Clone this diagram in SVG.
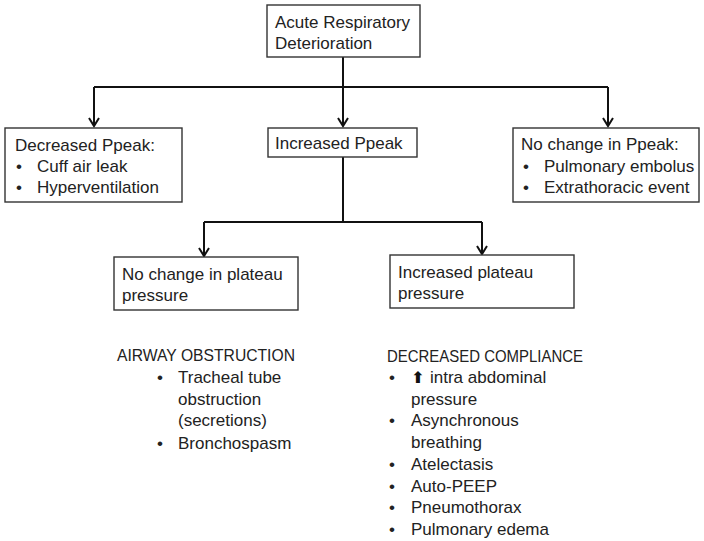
<svg xmlns="http://www.w3.org/2000/svg" width="704" height="541" viewBox="0 0 704 541">
<defs>
<style>
.box{fill:#fff;stroke:#333;stroke-width:1.4}
.t{font-family:"Liberation Sans",Arial,sans-serif;font-size:17px;fill:#222}
.c{fill:none;stroke:#111;stroke-width:2}
</style>
<marker id="ah" markerWidth="12" markerHeight="12" viewBox="0 0 12 12" refX="10" refY="6" orient="auto" markerUnits="userSpaceOnUse">
<path d="M2,1 L10,6 L2,11" fill="none" stroke="#111" stroke-width="2"/>
</marker>
</defs>
<rect width="704" height="541" fill="#fff"/>
<g id="connectors">
<path class="c" d="M343,57 V87"/>
<path class="c" d="M94,87 H608"/>
<path class="c" d="M94,87 V126" marker-end="url(#ah)"/>
<path class="c" d="M343,87 V126" marker-end="url(#ah)"/>
<path class="c" d="M608,87 V126" marker-end="url(#ah)"/>
<path class="c" d="M343,157 V222"/>
<path class="c" d="M204,222 H482"/>
<path class="c" d="M204,222 V256" marker-end="url(#ah)"/>
<path class="c" d="M482,222 V254" marker-end="url(#ah)"/>
</g>
<g id="n-acute">
<rect class="box" x="267" y="5" width="153" height="52"/>
<text class="t" x="275" y="28">Acute Respiratory</text>
<text class="t" x="275" y="49">Deterioration</text>
</g>
<g id="n-decreased">
<rect class="box" x="5" y="128" width="177" height="74"/>
<text class="t" x="15" y="151">Decreased Ppeak:</text>
<text class="t" x="16" y="172">•</text>
<text class="t" x="37" y="172">Cuff air leak</text>
<text class="t" x="16" y="193">•</text>
<text class="t" x="37" y="193">Hyperventilation</text>
</g>
<g id="n-increased">
<rect class="box" x="268" y="128" width="149" height="29"/>
<text class="t" x="275" y="149">Increased Ppeak</text>
</g>
<g id="n-nochange">
<rect class="box" x="513" y="128" width="186" height="74"/>
<text class="t" x="521" y="150">No change in Ppeak:</text>
<text class="t" x="523" y="172">•</text>
<text class="t" x="544" y="172">Pulmonary embolus</text>
<text class="t" x="523" y="193">•</text>
<text class="t" x="544" y="193">Extrathoracic event</text>
</g>
<g id="n-noplateau">
<rect class="box" x="114" y="257" width="184" height="53"/>
<text class="t" x="122" y="280">No change in plateau</text>
<text class="t" x="122" y="301">pressure</text>
</g>
<g id="n-incplateau">
<rect class="box" x="390" y="255" width="184" height="53"/>
<text class="t" x="398" y="278">Increased plateau</text>
<text class="t" x="398" y="299">pressure</text>
</g>
<g id="n-airway">
<text class="t" x="117" y="361" textLength="178" lengthAdjust="spacingAndGlyphs">AIRWAY OBSTRUCTION</text>
<text class="t" x="157" y="383">•</text>
<text class="t" x="178" y="383">Tracheal tube</text>
<text class="t" x="178" y="405">obstruction</text>
<text class="t" x="178" y="426">(secretions)</text>
<text class="t" x="157" y="449">•</text>
<text class="t" x="178" y="449">Bronchospasm</text>
</g>
<g id="n-compliance">
<text class="t" x="387" y="362" textLength="196" lengthAdjust="spacingAndGlyphs">DECREASED COMPLIANCE</text>
<text class="t" x="389" y="383">•</text>
<text x="411" y="383" style="font-family:'DejaVu Sans',sans-serif;font-size:16px;font-weight:bold;fill:#111">⬆</text>
<text class="t" x="430" y="383">intra abdominal</text>
<text class="t" x="411" y="405">pressure</text>
<text class="t" x="389" y="426">•</text>
<text class="t" x="411" y="426">Asynchronous</text>
<text class="t" x="411" y="448">breathing</text>
<text class="t" x="389" y="470">•</text>
<text class="t" x="411" y="470">Atelectasis</text>
<text class="t" x="389" y="492">•</text>
<text class="t" x="411" y="492">Auto-PEEP</text>
<text class="t" x="389" y="513">•</text>
<text class="t" x="411" y="513">Pneumothorax</text>
<text class="t" x="389" y="535">•</text>
<text class="t" x="411" y="535">Pulmonary edema</text>
</g>
</svg>
